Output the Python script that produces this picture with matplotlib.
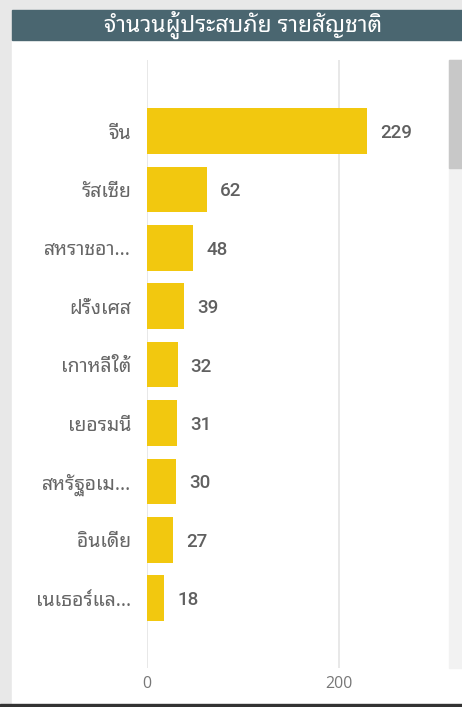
import matplotlib
matplotlib.use('Agg')
import matplotlib.pyplot as plt
from matplotlib.patches import Rectangle

# Donnees
pays = ['จีน', 'รัสเซีย', 'สหราชอา...', 'ฝรั่งเศส', 'เกาหลีใต้', 'เยอรมนี', 'สหรัฐอเม...', 'อินเดีย', 'เนเธอร์แล...']
valeurs = [229, 62, 48, 39, 32, 31, 30, 27, 18]
titre = 'จำนวนผู้ประสบภัย รายสัญชาติ'
graduations = [0, 200]

thai = ['Noto Sans Thai Looped', 'Noto Sans']
W, H = 462, 707
fig = plt.figure(figsize=(W / 100, H / 100), dpi=100, facecolor='#e8e8e8')

def boite(x, y, w, h, c):
    # rectangle en pixels depuis le coin haut-gauche
    fig.patches.append(Rectangle((x / W, 1 - (y + h) / H), w / W, h / H,
                                 transform=fig.transFigure, color=c, zorder=-5))

boite(12, 40, 450, 664, 'white')
boite(12, 10, 450, 30, '#4a6670')
boite(0, 704, 462, 3, '#333333')
boite(449, 60, 13, 608, '#f2f2f2')
boite(449, 60, 13, 108, '#c8c8c8')

fig.text(243 / W, 1 - 25 / H, titre, color='white', fontsize=16.5,
         family=thai, ha='center', va='center')

ax = fig.add_axes([147 / W, 39 / H, 288 / W, 608 / H], zorder=2)
ax.set_facecolor('none')
pos = list(range(len(pays)))
barres = ax.barh(pos, valeurs, height=0.78, color='#f2c80f', zorder=2)
ax.set_xlim(0, 300)
ax.set_ylim(len(pays) - 1 + 1.195, -1.216)

for v in graduations:
    ax.axvline(v, color='#e4e4e4', lw=1.2, zorder=1)

for p, v in zip(pos, valeurs):
    ax.annotate(str(v), (v, p), xytext=(13, -2), textcoords='offset pixels',
                va='center', ha='left', fontsize=13.5, color='#606060',
                family='Roboto', fontweight='medium')

ax.set_yticks(pos)
ax.set_yticklabels(pays, family=thai, fontsize=14, color='#666666')
ax.set_xticks(graduations)
ax.set_xticklabels([str(g) for g in graduations], family='Open Sans', fontsize=11.5, color='#777777')
ax.tick_params(axis='y', length=0, pad=11.5)
ax.tick_params(axis='x', length=0, pad=6)
for s in ax.spines.values():
    s.set_visible(False)

fig.savefig('out.png', dpi=100, facecolor=fig.get_facecolor())
